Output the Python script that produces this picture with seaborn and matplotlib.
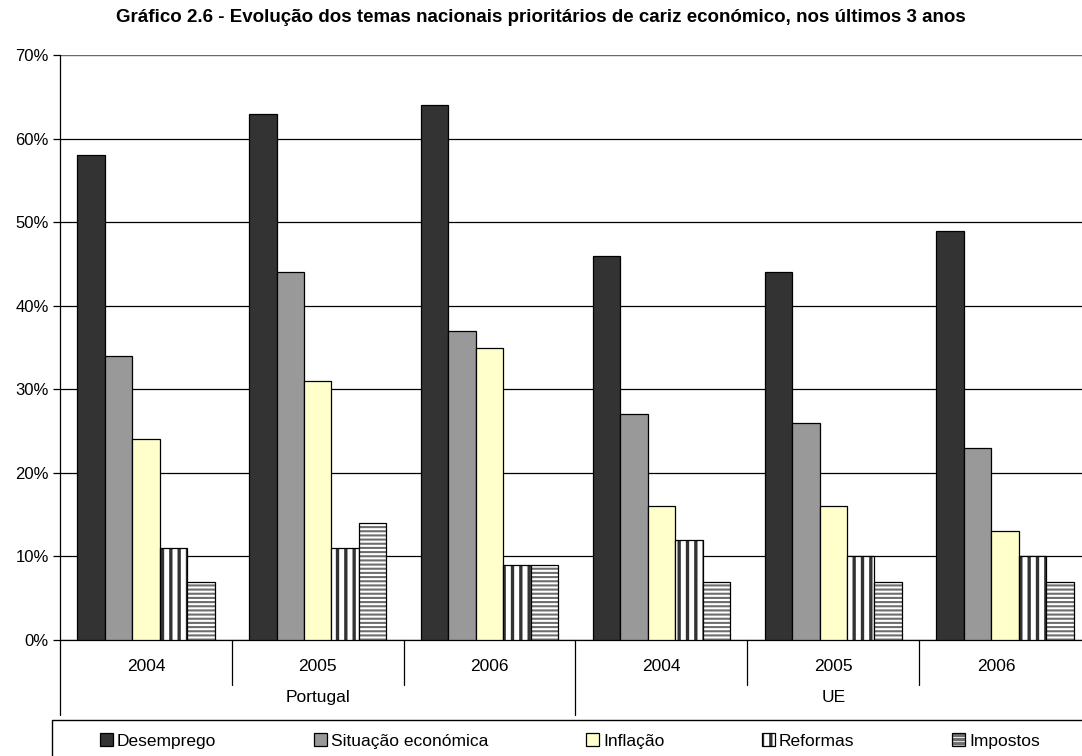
import pandas as pd
import matplotlib.pyplot as plt
import matplotlib as mpl
from matplotlib.patches import Rectangle
from matplotlib.ticker import PercentFormatter
import seaborn as sns

# dados
temas = ["Desemprego", "Situação económica", "Inflação", "Reformas", "Impostos"]
regioes = ["Portugal", "UE"]
anos = ["2004", "2005", "2006"]
desemprego = [58, 63, 64, 46, 44, 49]
situacao = [34, 44, 37, 27, 26, 23]
inflacao = [24, 31, 35, 16, 16, 13]
reformas = [11, 11, 9, 12, 10, 10]
impostos = [7, 14, 9, 7, 7, 7]
titulo = "Gráfico 2.6 - Evolução dos temas nacionais prioritários de cariz económico, nos últimos 3 anos"

grupos = [r + " " + a for r in regioes for a in anos]
valores = [desemprego, situacao, inflacao, reformas, impostos]
linhas = []
for t, vals in zip(temas, valores):
    for g, v in zip(grupos, vals):
        linhas.append({"grupo": g, "tema": t, "valor": v / 100})
df = pd.DataFrame(linhas)

sns.set_style("white")
plt.rcParams["font.family"] = ["Liberation Sans", "DejaVu Sans"]
plt.rcParams["text.color"] = "black"
plt.rcParams["ytick.color"] = "black"
plt.rcParams["ytick.labelcolor"] = "black"
plt.rcParams["hatch.linewidth"] = 2.4

cores = ["#333333", "#999999", "#FFFFCC", "white", "white"]

fig = plt.figure(figsize=(10.82, 7.56), dpi=100)
W, H = 1082, 756
ax = fig.add_axes([60 / W, 1 - 640 / H, (1091 - 60) / W, (640 - 55) / H])

sns.barplot(data=df, x="grupo", y="valor", hue="tema", order=grupos, hue_order=temas,
            palette=cores, saturation=1, edgecolor="black", linewidth=0.9, width=0.8,
            ax=ax, legend=False, zorder=3)

# padrões das barras Reformas e Impostos
for p in ax.containers[3].patches:
    p.set_hatch("||")
    p._hatch_color = mpl.colors.to_rgba("#333333")
for p in ax.containers[4].patches:
    p.set_hatch("----")
    p._hatch_color = mpl.colors.to_rgba("#6e6e6e")
    if hasattr(p, "set_hatch_linewidth"):
        p.set_hatch_linewidth(1.5)

ax.set_xlim(-0.5, 5.5)
ax.set_ylim(0, 0.7)
ax.set_yticks([i / 10 for i in range(8)])
ax.yaxis.set_major_formatter(PercentFormatter(1.0, decimals=0))
ax.tick_params(axis="y", direction="out", length=5, width=0.9, color="black",
               labelsize=12, pad=3, left=True)
ax.set_xticks([])
ax.set_xlabel("")
ax.set_ylabel("")
ax.grid(axis="y", color="black", linewidth=0.9, zorder=0)
ax.set_axisbelow(True)
for s in ["top", "right"]:
    ax.spines[s].set_visible(False)
ax.spines["left"].set_linewidth(0.9)
ax.spines["left"].set_color("black")
ax.spines["bottom"].set_linewidth(0.9)
ax.spines["bottom"].set_color("black")
ax.axhline(0.7, color="#808080", linewidth=1.2, zorder=1)

# eixo de categorias em dois níveis
tr = ax.get_xaxis_transform()
for x in [0.5, 1.5, 3.5, 4.5]:
    ax.plot([x, x], [0, -0.077], transform=tr, color="black", lw=0.9, clip_on=False)
for x in [-0.5, 2.5]:
    ax.plot([x, x], [0, -0.128], transform=tr, color="black", lw=0.9, clip_on=False)
for i, g in enumerate(grupos):
    xpos = i if i < 5 else 4.95
    ax.text(xpos, -0.046, g.split(" ")[1], transform=tr, ha="center", va="center", fontsize=12.5)
ax.text(1, -0.099, regioes[0], transform=tr, ha="center", va="center", fontsize=12.5)
ax.text(4, -0.099, regioes[1], transform=tr, ha="center", va="center", fontsize=12.5)

fig.text(0.5, 1 - 18 / H, titulo, ha="center", va="center", fontsize=13.5, fontweight="bold")

# legenda
fig.add_artist(Rectangle((52 / W, -0.05), 1.2, 36 / H + 0.05, transform=fig.transFigure,
                         fill=False, edgecolor="black", linewidth=1.0))
fig.legend(ax.containers, temas, loc="center left", bbox_to_anchor=(91 / W, 1 - 741 / H),
           ncol=5, frameon=False, fontsize=12.5, borderpad=0, handlelength=0.75,
           handleheight=0.75, handletextpad=0.25, columnspacing=5.6)

fig.savefig("out.png", dpi=100)
